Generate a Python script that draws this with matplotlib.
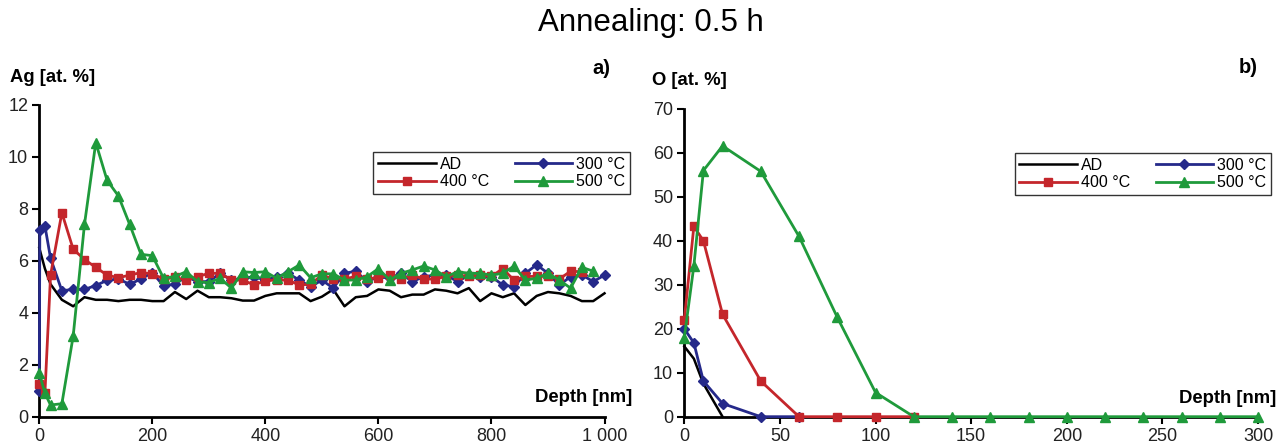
import matplotlib
matplotlib.use("Agg")
import matplotlib.pyplot as plt
import numpy as np

plt.rcParams['font.family'] = ['Liberation Sans', 'DejaVu Sans']

# ---------------- data: panel a) Ag ----------------
grid20 = list(range(20, 1001, 20))

ad_depth = [0, 10] + grid20
ad_ag = [6.5, 5.7, 5.1, 4.5, 4.25, 4.6, 4.5, 4.5, 4.45, 4.5, 4.5, 4.45,
         4.45, 4.8, 4.53, 4.85, 4.6, 4.6, 4.56, 4.47, 4.47, 4.65, 4.75, 4.75,
         4.75, 4.45, 4.62, 4.9, 4.25, 4.6, 4.65, 4.9, 4.85, 4.6, 4.7, 4.7,
         4.9, 4.85, 4.75, 4.95, 4.45, 4.75, 4.6, 4.75, 4.3, 4.65, 4.8, 4.75,
         4.65, 4.45, 4.45, 4.75]

t300_depth = [0, 1, 10] + grid20
t300_ag = [1.0, 7.2, 7.35, 6.1, 4.85, 4.9, 4.9, 5.05, 5.25, 5.3, 5.1, 5.3,
           5.55, 5.03, 5.1, 5.39, 5.2, 5.2, 5.52, 5.26, 5.33, 5.39, 5.26, 5.39,
           5.52, 5.26, 5.0, 5.26, 4.95, 5.52, 5.6, 5.2, 5.39, 5.33, 5.52, 5.2,
           5.39, 5.45, 5.45, 5.2, 5.45, 5.39, 5.39, 5.07, 5.0, 5.52, 5.85, 5.52,
           5.07, 5.39, 5.46, 5.2, 5.45]

t400_depth = [0, 10] + list(range(20, 961, 20))
t400_ag = [1.25, 0.9, 5.45, 7.85, 6.45, 6.05, 5.75, 5.45, 5.35, 5.45, 5.55,
           5.5, 5.3, 5.36, 5.26, 5.39, 5.52, 5.52, 5.26, 5.26, 5.07, 5.24,
           5.26, 5.26, 5.07, 5.1, 5.45, 5.3, 5.3, 5.4, 5.3, 5.35, 5.45, 5.3,
           5.45, 5.3, 5.3, 5.4, 5.45, 5.4, 5.45, 5.4, 5.7, 5.25, 5.4, 5.4,
           5.4, 5.3, 5.6, 5.58]

t500_depth = [0, 10] + list(range(20, 981, 20))
t500_ag = [1.7, 0.9, 0.45, 0.5, 3.1, 7.4, 10.55, 9.1, 8.5, 7.4, 6.25, 6.2,
           5.33, 5.4, 5.58, 5.2, 5.16, 5.33, 4.95, 5.58, 5.55, 5.58, 5.33,
           5.58, 5.84, 5.35, 5.5, 5.5, 5.26, 5.26, 5.39, 5.7, 5.26, 5.52,
           5.65, 5.8, 5.65, 5.39, 5.58, 5.52, 5.52, 5.45, 5.52, 5.8, 5.26,
           5.33, 5.52, 5.26, 4.95, 5.75, 5.6]

# ---------------- data: panel b) O ----------------
ad_depth_o = [0, 5, 10, 20]
ad_o = [16, 13.2, 7.5, 0]
t300_depth_o = [0, 5, 10, 20, 40, 60]
t300_o = [20, 16.8, 8.1, 3, 0, 0]
t400_depth_o = [0, 5, 10, 20, 40, 60, 80, 100, 120]
t400_o = [22, 43.3, 40, 23.3, 8.1, 0, 0, 0, 0]
t500_depth_o = [0, 5, 10, 20, 40, 60, 80, 100, 120, 140, 160, 180, 200,
                220, 240, 260, 280, 300]
t500_o = [18, 34.3, 56, 61.6, 55.8, 41, 22.6, 5.5, 0, 0, 0, 0, 0, 0, 0, 0, 0, 0]

labels = ['AD', '300 °C', '400 °C', '500 °C']

xticks_a = [0, 200, 400, 600, 800, 1000]
xtick_labels_a = ['0', '200', '400', '600', '800', '1 000']
yticks_a = [0, 2, 4, 6, 8, 10, 12]
xticks_b = [0, 50, 100, 150, 200, 250, 300]
yticks_b = [0, 10, 20, 30, 40, 50, 60, 70]

BLUE = '#25298a'
RED = '#c4262b'
GREEN = '#1f9a3b'

fig = plt.figure(figsize=(12.87, 4.45), dpi=100)
fig.patch.set_facecolor('white')

ax1 = fig.add_axes([0.0305, 0.0636, 0.4392, 0.7005])
ax2 = fig.add_axes([0.5317, 0.0636, 0.4458, 0.6915])


def draw(ax, series, xlim, ylim, xticks, xticklabels, yticks, leg_anchor):
    (d0, v0), (d1, v1), (d2, v2), (d3, v3) = series
    h0, = ax.plot(d0, v0, color='black', lw=1.8, label=labels[0], clip_on=False, zorder=3)
    h1, = ax.plot(d1, v1, color=BLUE, lw=2, marker='D', ms=5.5, label=labels[1],
                  clip_on=False, zorder=4)
    h2, = ax.plot(d2, v2, color=RED, lw=2, marker='s', ms=5.5, label=labels[2],
                  clip_on=False, zorder=5)
    h3, = ax.plot(d3, v3, color=GREEN, lw=2, marker='^', ms=7, label=labels[3],
                  clip_on=False, zorder=6)
    ax.set_xlim(*xlim)
    ax.set_ylim(*ylim)
    ax.set_xticks(xticks)
    ax.set_xticklabels(xticklabels)
    ax.set_yticks(yticks)
    for s in ['top', 'right']:
        ax.spines[s].set_visible(False)
    for s in ['left', 'bottom']:
        ax.spines[s].set_linewidth(2)
    ax.tick_params(direction='out', length=5, width=1.5, labelsize=13,
                   labelcolor='#222222', pad=3)
    leg = ax.legend([h0, h2, h1, h3], [labels[0], labels[2], labels[1], labels[3]],
                    ncol=2, loc='upper right', bbox_to_anchor=leg_anchor,
                    frameon=True, fancybox=False, edgecolor='black',
                    fontsize=11.5, handlelength=3.6, handletextpad=0.25,
                    columnspacing=1.6, labelspacing=0.15, borderpad=0.3,
                    borderaxespad=0)
    leg.get_frame().set_linewidth(1.0)
    return leg


draw(ax1, [(ad_depth, ad_ag), (t300_depth, t300_ag), (t400_depth, t400_ag),
           (t500_depth, t500_ag)],
     (0, 1000), (0, 12), xticks_a, xtick_labels_a, yticks_a, (1.045, 0.849))
draw(ax2, [(ad_depth_o, ad_o), (t300_depth_o, t300_o), (t400_depth_o, t400_o),
           (t500_depth_o, t500_o)],
     (0, 300), (0, 70), xticks_b, [str(v) for v in xticks_b], yticks_b, (1.0227, 0.857))

fig.text(0.506, 0.948, 'Annealing: 0.5 h', ha='center', va='center', fontsize=22.5)
fig.text(0.0078, 0.825, 'Ag [at. %]', ha='left', va='center', fontsize=13.3, fontweight='bold')
fig.text(0.5066, 0.82, 'O [at. %]', ha='left', va='center', fontsize=13.3, fontweight='bold')
fig.text(0.491, 0.106, 'Depth [nm]', ha='right', va='center', fontsize=13.3, fontweight='bold')
fig.text(0.992, 0.104, 'Depth [nm]', ha='right', va='center', fontsize=13.3, fontweight='bold')
fig.text(0.474, 0.847, 'a)', ha='right', va='center', fontsize=14.5, fontweight='bold')
fig.text(0.977, 0.849, 'b)', ha='right', va='center', fontsize=14.5, fontweight='bold')

fig.savefig('out.png', dpi=100, facecolor='white')
